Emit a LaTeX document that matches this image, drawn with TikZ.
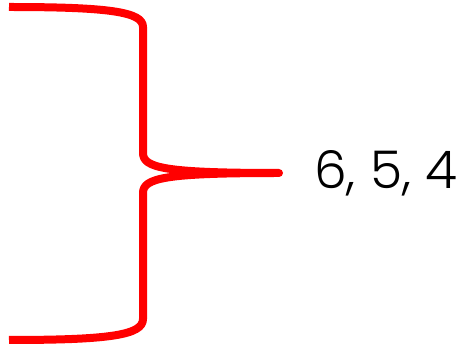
\documentclass[tikz,border=0pt]{standalone}
\usepackage{fontspec}
\setmainfont{Poppins}[UprightFont=* Light]
\usepackage{xcolor}
\usetikzlibrary{positioning}
\definecolor{bracered}{HTML}{FF0000}
\tikzset{
  brace/.style={draw=bracered,line width=8pt,line cap=butt,line join=round},
  value/.style={font=\fontsize{52}{60}\selectfont,inner sep=0pt,anchor=west}
}
\begin{document}
\begin{tikzpicture}[x=1pt,y=1pt]
\useasboundingbox (0,0) rectangle (467,-347);
\coordinate (top) at (9,-7);
\coordinate (bottom) at (9,-340);
\coordinate (tip) at (279,-173);
\node[value,right=35pt of tip] (val) {6, 5, 4};

\draw[brace] (top) .. controls (110,-7) and (143,-12) .. (143,-27)
  -- (143,-153) .. controls (143,-168) and (165,-173) .. (tip)
  .. controls (165,-173) and (143,-178) .. (143,-193)
  -- (143,-319) .. controls (143,-335) and (110,-340) .. (bottom);
\end{tikzpicture}
\end{document}
